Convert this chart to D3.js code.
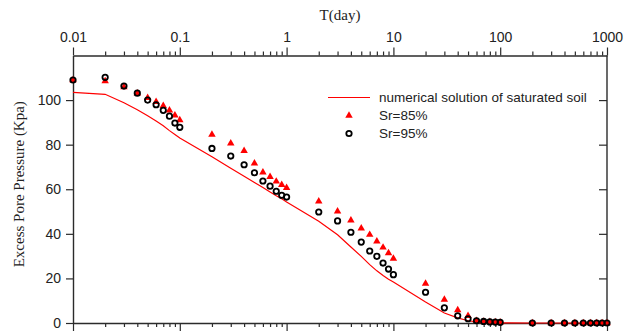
<!DOCTYPE html>
<html>
<head>
<meta charset="utf-8">
<script src="https://cdn.jsdelivr.net/npm/d3@7"></script>
<style>
  html, body { margin: 0; padding: 0; background: #ffffff; }
  #chart { width: 625px; height: 333px; }
</style>
</head>
<body>
<div id="chart"></div>
<script>
const times = [0.01, 0.02, 0.03, 0.04, 0.05, 0.06, 0.07, 0.08, 0.09, 0.1,
  0.2, 0.3, 0.4, 0.5, 0.6, 0.7, 0.8, 0.9, 1,
  2, 3, 4, 5, 6, 7, 8, 9, 10,
  20, 30, 40, 50, 60, 70, 80, 90, 100,
  200, 300, 400, 500, 600, 700, 800, 900, 1000];

const numerical = [103.5, 102.6, 98.8, 95.7, 93.0, 90.6, 88.5, 86.3, 84.6, 83.0,
  74.6, 69.4, 65.8, 63.0, 60.8, 58.8, 57.1, 55.7, 54.3,
  45.6, 39.6, 34.1, 29.9, 26.2, 23.4, 21.3, 19.6, 18.4,
  9.4, 4.5, 2.3, 1.0, 0.5, 0.3, 0.2, 0.1, 0.05,
  0, 0, 0, 0, 0, 0, 0, 0, 0];

const sr85 = [109, 108.5, 105.8, 103, 101, 99.2, 97.4, 95.4, 93.2, 91,
  84.5, 80.6, 77.2, 71.6, 67.6, 65.6, 63.5, 62, 60.6,
  54.6, 50.1, 46.1, 42.5, 39.6, 36.6, 33.9, 31.4, 28.9,
  17.7, 10.5, 5.8, 3.2, 1.0, 0.7, 0.5, 0.4, 0.3,
  0, 0, 0, 0, 0, 0, 0, 0, 0];

const sr95 = [109, 110.2, 106.3, 103.1, 100, 97.9, 95.4, 92.8, 89.7, 87.8,
  78.3, 74.9, 71, 67.4, 63.7, 61.4, 59.1, 57.3, 56.5,
  49.8, 45.8, 40.7, 36.3, 32.3, 29.9, 26.9, 24.2, 21.7,
  13.8, 6.8, 3.2, 1.9, 1.0, 0.7, 0.5, 0.4, 0.3,
  0, 0, 0, 0, 0, 0, 0, 0, 0];

const xTickValues = [0.01, 0.1, 1, 10, 100, 1000];
const yTickValues = [0, 20, 40, 60, 80, 100];
const legendLabels = ["numerical solution of saturated soil", "Sr=85%", "Sr=95%"];

const outerWidth = 625;
const outerHeight = 333;
const margin = { top: 55.5, right: 18, bottom: 10, left: 73 };
const width = outerWidth - margin.left - margin.right;
const height = outerHeight - margin.top - margin.bottom;

const axisColor = "#2b2b2b";
const red = "#ff0000";
const tickFont = "'Liberation Sans', Arial, sans-serif";
const titleFont = "'Liberation Serif', 'Times New Roman', serif";

const svg = d3.select("#chart")
  .append("svg")
  .attr("width", outerWidth)
  .attr("height", outerHeight);

const g = svg.append("g")
  .attr("transform", `translate(${margin.left},${margin.top})`);

const x = d3.scaleLog().domain([0.01, 1000]).range([0, width]);
const y = d3.scaleLinear().domain([0, 120]).range([height, 0]);

// minor ticks 2..9 of each decade
const minorTicks = [];
for (let d = -2; d < 3; d++) {
  for (let k = 2; k <= 9; k++) minorTicks.push(k * Math.pow(10, d));
}

function styleAxis(sel) {
  sel.selectAll("line").attr("stroke", axisColor).attr("stroke-width", 1.2);
  sel.selectAll("path").attr("stroke", axisColor).attr("stroke-width", 1.4);
  sel.selectAll("text")
    .attr("fill", "#222")
    .style("font-family", tickFont)
    .style("font-size", "14px");
}

// top axis (labelled)
g.append("g")
  .call(d3.axisTop(x).tickValues(minorTicks).tickSize(4).tickSizeOuter(0).tickFormat(""))
  .call(styleAxis);
g.append("g")
  .call(d3.axisTop(x).tickValues(xTickValues).tickSize(8).tickSizeOuter(0).tickPadding(6)
    .tickFormat(d => d3.format("~g")(d)))
  .call(styleAxis)
  .call(s => s.select("path").remove());

// bottom axis (no labels)
g.append("g")
  .attr("transform", `translate(0,${height})`)
  .call(d3.axisBottom(x).tickValues(minorTicks).tickSize(4).tickSizeOuter(0).tickFormat(""))
  .call(styleAxis);
g.append("g")
  .attr("transform", `translate(0,${height})`)
  .call(d3.axisBottom(x).tickValues(xTickValues).tickSize(8).tickSizeOuter(0).tickFormat(""))
  .call(styleAxis)
  .call(s => s.select("path").remove());

// left axis
g.append("g")
  .call(d3.axisLeft(y).tickValues(yTickValues).tickSize(7).tickSizeOuter(0).tickPadding(5))
  .call(styleAxis);

// right axis, ticks pointing inward
g.append("g")
  .attr("transform", `translate(${width},0)`)
  .call(d3.axisLeft(y).tickValues(yTickValues).tickSize(8).tickSizeOuter(0).tickFormat(""))
  .call(styleAxis)
  .call(s => s.select("path").remove());
g.append("line")
  .attr("x1", width).attr("x2", width)
  .attr("y1", 0).attr("y2", height)
  .attr("stroke", axisColor).attr("stroke-width", 1.4);

// titles
svg.append("text")
  .attr("x", margin.left + width / 2)
  .attr("y", 20)
  .attr("text-anchor", "middle")
  .style("font-family", titleFont)
  .style("font-size", "15px")
  .attr("fill", "#222")
  .text("T(day)");

svg.append("text")
  .attr("transform", `translate(24,${margin.top + height / 2 - 5}) rotate(-90)`)
  .attr("text-anchor", "middle")
  .style("font-family", titleFont)
  .style("font-size", "15px")
  .attr("fill", "#222")
  .text("Excess Pore Pressure (Kpa)");

// numerical line
const line = d3.line()
  .x((d, i) => x(times[i]))
  .y(d => y(d));

g.append("path")
  .datum(numerical)
  .attr("d", line)
  .attr("fill", "none")
  .attr("stroke", red)
  .attr("stroke-width", 1.2);

const tri = d3.symbol().type(d3.symbolTriangle).size(24);

g.selectAll(".tri")
  .data(sr85)
  .enter()
  .append("path")
  .attr("class", "tri")
  .attr("d", tri)
  .attr("transform", (d, i) => `translate(${x(times[i])},${y(d)})`)
  .attr("fill", red);

g.selectAll(".circ")
  .data(sr95)
  .enter()
  .append("circle")
  .attr("class", "circ")
  .attr("cx", (d, i) => x(times[i]))
  .attr("cy", d => y(d))
  .attr("r", 2.7)
  .attr("fill", "none")
  .attr("stroke", "#000")
  .attr("stroke-width", 1.8);

// legend
const legend = svg.append("g").attr("transform", "translate(328,97.5)");
legend.append("line")
  .attr("x1", 0).attr("x2", 42)
  .attr("y1", 0).attr("y2", 0)
  .attr("stroke", red).attr("stroke-width", 1.2);
legend.append("path")
  .attr("d", tri)
  .attr("transform", "translate(21,18)")
  .attr("fill", red);
legend.append("circle")
  .attr("cx", 21).attr("cy", 36)
  .attr("r", 2.7)
  .attr("fill", "none")
  .attr("stroke", "#000")
  .attr("stroke-width", 1.8);
legend.selectAll("text")
  .data(legendLabels)
  .enter()
  .append("text")
  .attr("x", 51)
  .attr("y", (d, i) => i * 18)
  .attr("dy", "0.35em")
  .style("font-family", tickFont)
  .style("font-size", "13.5px")
  .attr("fill", "#222")
  .text(d => d);
</script>
</body>
</html>
